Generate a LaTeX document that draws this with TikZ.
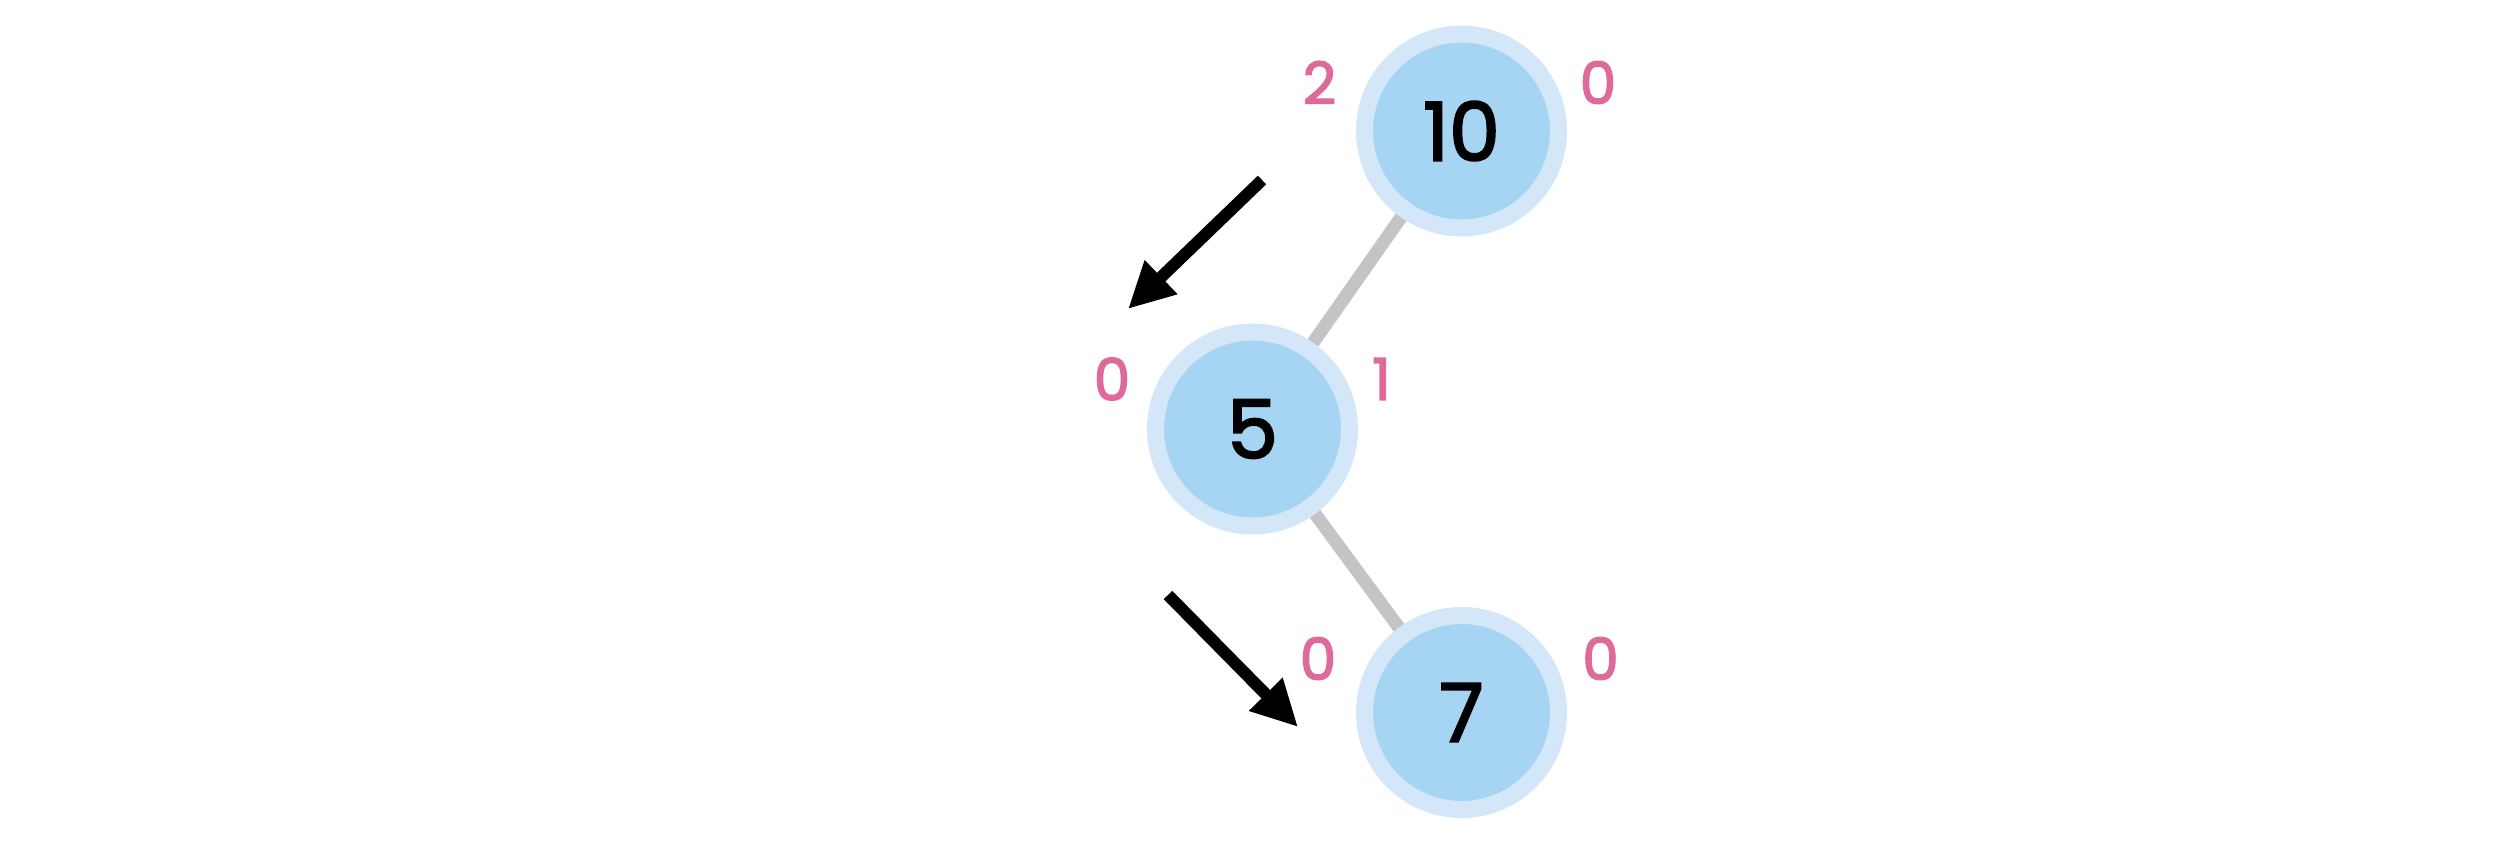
\documentclass[tikz,border=0pt]{standalone}
\usepackage{fontspec}
\setmainfont{Poppins}[FakeBold=2.4]
\usetikzlibrary{arrows.meta,backgrounds}
\definecolor{ringblue}{HTML}{D3E7F8}
\definecolor{coreblue}{HTML}{A6D4F3}
\definecolor{edgegray}{HTML}{C4C4C4}
\definecolor{balpink}{HTML}{DE6A9C}
\begin{document}
\begin{tikzpicture}[x=1pt,y=-1pt,
  treenode/.style={circle, fill=coreblue, draw=ringblue, line width=17pt,
    minimum size=194pt, inner sep=0pt, text=black,
    font=\fontsize{81}{81}\selectfont},
  ballabel/.style={inner sep=0pt, text=balpink, font=\fontsize{58}{58}\selectfont},
  treeedge/.style={draw=edgegray, line width=13pt},
  pusharrow/.style={draw=black, line width=12pt,
    -{Triangle[length=46pt,width=44pt]}}]
  \useasboundingbox (0,0) rectangle (2512,844);

  % tree nodes
  \node[treenode] (n10) at (1461.5,131) {10};
  \node[treenode] (n5)  at (1252.5,429) {5};
  \node[treenode] (n7)  at (1461.5,712.5) {7};

  % balance / height labels
  \node[ballabel] (l10) at (1319.5,82.5) {2};
  \node[ballabel] (r10) at (1598,82.5) {0};
  \node[ballabel] (l5)  at (1112,379) {0};
  \node[ballabel] (r5)  at (1381.5,379) {1};
  \node[ballabel] (l7)  at (1318,658.5) {0};
  \node[ballabel] (r7)  at (1600.5,658.5) {0};

  % white sheet and edges behind the nodes
  \begin{scope}[on background layer]
    \fill[white] (0,0) rectangle (2512,844);
    \draw[treeedge] (n10.center) -- (n5.center);
    \draw[treeedge] (n5.center) -- (n7.center);
  \end{scope}

  % rotation arrows
  \coordinate (a1s) at (1262,180);
  \coordinate (a1e) at (1128,309);
  \coordinate (a2s) at (1168,595);
  \coordinate (a2e) at (1298,727);
  \draw[pusharrow] (a1s) -- (a1e);
  \draw[pusharrow] (a2s) -- (a2e);
\end{tikzpicture}
\end{document}
